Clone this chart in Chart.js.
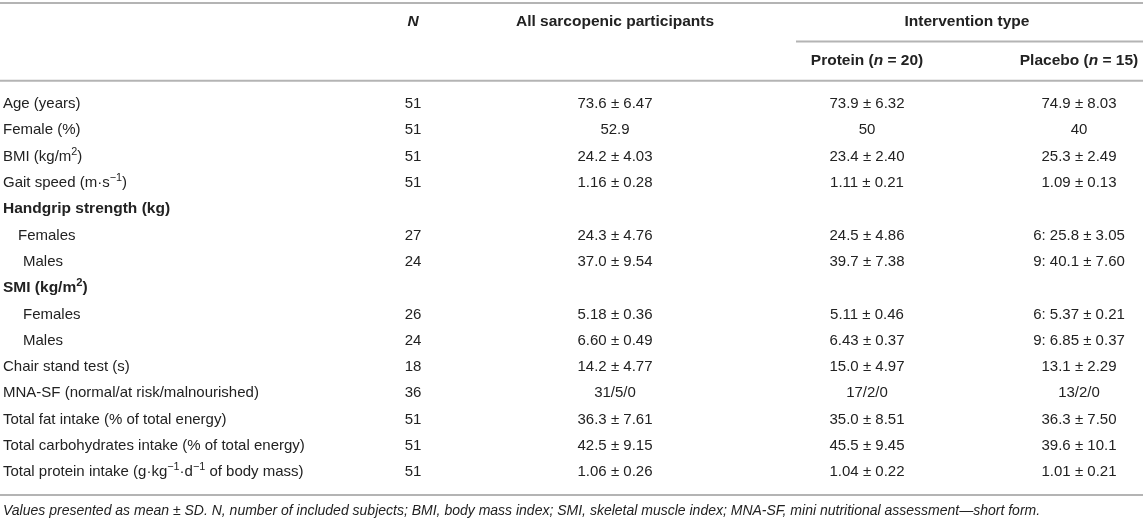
<html>
<head>
<meta charset="utf-8">
<script src="https://cdn.jsdelivr.net/npm/chart.js@4/dist/chart.umd.min.js"></script>
<style>
body { margin: 0; background: #fff; }
#wrap { width: 1143px; height: 522px; }
</style>
</head>
<body>
<div id="wrap"><canvas id="tbl" width="1143" height="522"></canvas></div>
<script>
// table content  (^{..} = superscript, ~{..} = italic)
const rowLabels = [
  'Age (years)',
  'Female (%)',
  'BMI (kg/m^{2})',
  'Gait speed (m·s^{−1})',
  'Handgrip strength (kg)',
  'Females',
  'Males',
  'SMI (kg/m^{2})',
  'Females',
  'Males',
  'Chair stand test (s)',
  'MNA-SF (normal/at risk/malnourished)',
  'Total fat intake (% of total energy)',
  'Total carbohydrates intake (% of total energy)',
  'Total protein intake (g·kg^{−1}·d^{−1} of body mass)'
];
const nValues = ['51','51','51','51','','27','24','','26','24','18','36','51','51','51'];
const allValues = ['73.6 ± 6.47','52.9','24.2 ± 4.03','1.16 ± 0.28','','24.3 ± 4.76','37.0 ± 9.54','',
  '5.18 ± 0.36','6.60 ± 0.49','14.2 ± 4.77','31/5/0','36.3 ± 7.61','42.5 ± 9.15','1.06 ± 0.26'];
const proteinValues = ['73.9 ± 6.32','50','23.4 ± 2.40','1.11 ± 0.21','','24.5 ± 4.86','39.7 ± 7.38','',
  '5.11 ± 0.46','6.43 ± 0.37','15.0 ± 4.97','17/2/0','35.0 ± 8.51','45.5 ± 9.45','1.04 ± 0.22'];
const placeboValues = ['74.9 ± 8.03','40','25.3 ± 2.49','1.09 ± 0.13','','6: 25.8 ± 3.05','9: 40.1 ± 7.60','',
  '6: 5.37 ± 0.21','9: 6.85 ± 0.37','13.1 ± 2.29','13/2/0','36.3 ± 7.50','39.6 ± 10.1','1.01 ± 0.21'];
const colHeaders = ['~{N}', 'All sarcopenic participants', 'Protein (~{n} = 20)', 'Placebo (~{n} = 15)'];
const groupHeader = 'Intervention type';
const footnote = 'Values presented as mean ± SD. N, number of included subjects; BMI, body mass index; SMI, skeletal muscle index; MNA-SF, mini nutritional assessment—short form.';

// layout (x in px-like units, y in row units)
const boldRows = [4, 7];
const rowIndent = [0,0,0,0,0,15,20,0,20,20,0,0,0,0,0];
const colX = [413, 615, 867, 1079];
const groupX = 967;
const yHead1 = -3.12, yHead2 = -1.64, yGroupLine = -2.38, yHeadLine = -0.88;
const yBottomLine = 14.87, yFoot = 15.48;
const BODY = 15, BOLD = 15.5, FOOT = 14;

const FONT = '"Liberation Sans", Arial, Helvetica, sans-serif';
const INK = '#222222';

function segs(str) {
  return str.split(/(\^\{[^}]*\}|~\{[^}]*\})/).filter(s => s.length).map(s => {
    if (s.startsWith('^{')) return {t: s.slice(2, -1), sup: true};
    if (s.startsWith('~{')) return {t: s.slice(2, -1), it: true};
    return {t: s};
  });
}
function fontFor(seg, size, bold, italic) {
  let sz = seg.sup ? size * 0.72 : size;
  return ((italic || seg.it) ? 'italic ' : '') + (bold ? 'bold ' : '') + sz + 'px ' + FONT;
}
function drawRich(ctx, str, x, y, align, size, bold, italic) {
  let parts = segs(str);
  let w = 0;
  parts.forEach(p => { ctx.font = fontFor(p, size, bold, italic); p.w = ctx.measureText(p.t).width; w += p.w; });
  let cx = align === 'center' ? x - w / 2 : (align === 'right' ? x - w : x);
  ctx.textAlign = 'left';
  ctx.textBaseline = 'middle';
  ctx.fillStyle = INK;
  parts.forEach(p => {
    ctx.font = fontFor(p, size, bold, italic);
    ctx.fillText(p.t, cx, p.sup ? y - size * 0.33 : y);
    cx += p.w;
  });
}

const columns = [rowLabels, nValues, allValues, proteinValues, placeboValues];
const datasets = columns.map((col, c) => ({
  label: 'col' + c,
  texts: col,
  data: col.map((_, i) => ({x: c === 0 ? 3 + rowIndent[i] : colX[c - 1], y: i})),
  pointRadius: 0,
  align: c === 0 ? 'left' : 'center'
}));

const tablePlugin = {
  id: 'tablePlugin',
  afterDatasetsDraw(chart) {
    const ctx = chart.ctx, xs = chart.scales.x, ys = chart.scales.y;
    ctx.save();
    // rules
    ctx.strokeStyle = '#b4b4b4';
    ctx.lineWidth = 2;
    const hline = (x0, x1, v) => {
      let py = v === null ? 3 : ys.getPixelForValue(v);
      ctx.beginPath(); ctx.moveTo(xs.getPixelForValue(x0), py); ctx.lineTo(xs.getPixelForValue(x1), py); ctx.stroke();
    };
    hline(0, 1143, null);
    hline(796, 1143, yGroupLine);
    hline(0, 1143, yHeadLine);
    hline(0, 1143, yBottomLine);
    // headers
    drawRich(ctx, colHeaders[0], xs.getPixelForValue(colX[0]), ys.getPixelForValue(yHead1), 'center', BOLD, true, false);
    drawRich(ctx, colHeaders[1], xs.getPixelForValue(colX[1]), ys.getPixelForValue(yHead1), 'center', BOLD, true, false);
    drawRich(ctx, groupHeader, xs.getPixelForValue(groupX), ys.getPixelForValue(yHead1), 'center', BOLD, true, false);
    drawRich(ctx, colHeaders[2], xs.getPixelForValue(colX[2]), ys.getPixelForValue(yHead2), 'center', BOLD, true, false);
    drawRich(ctx, colHeaders[3], xs.getPixelForValue(colX[3]), ys.getPixelForValue(yHead2), 'center', BOLD, true, false);
    // body cells
    chart.data.datasets.forEach((ds, d) => {
      chart.getDatasetMeta(d).data.forEach((pt, i) => {
        if (!ds.texts[i]) return;
        let b = d === 0 && boldRows.includes(i);
        drawRich(ctx, ds.texts[i], pt.x, pt.y, ds.align, b ? BOLD : BODY, b, false);
      });
    });
    // footnote
    drawRich(ctx, footnote, xs.getPixelForValue(3), ys.getPixelForValue(yFoot), 'left', FOOT, false, true);
    ctx.restore();
  }
};

new Chart(document.getElementById('tbl').getContext('2d'), {
  type: 'scatter',
  data: {datasets: datasets},
  options: {
    responsive: false,
    animation: false,
    layout: {padding: 0},
    plugins: {legend: {display: false}, tooltip: {enabled: false}},
    scales: {
      x: {type: 'linear', min: 0, max: 1143, display: false},
      y: {type: 'linear', min: -3.954, max: 15.894, reverse: true, display: false}
    }
  },
  plugins: [tablePlugin]
});
</script>
</body>
</html>
